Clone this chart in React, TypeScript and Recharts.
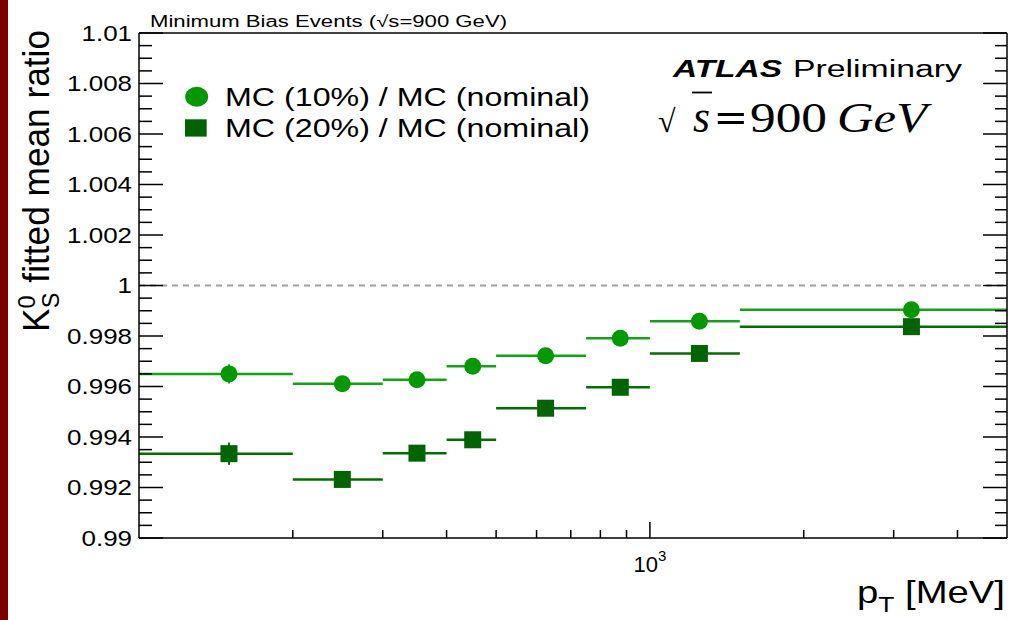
import { ScatterChart, Scatter, XAxis, YAxis, ErrorBar, ReferenceLine } from 'recharts';

// pT bins [MeV] and bin centres
const binLow = [100, 200, 300, 400, 500, 750, 1000, 1500];
const binHigh = [200, 300, 400, 500, 750, 1000, 1500, 5000];
const binCenter = [150, 250, 350, 450, 625, 875, 1250, 3250];

// fitted K0s mean ratio to nominal MC
const ratio10 = [0.9965, 0.99611, 0.99627, 0.9968, 0.99722, 0.99791, 0.99858, 0.99904];
const stat10 = [0.00038, 0.0002, 0.0002, 0.0002, 0.0002, 0.0002, 0.0002, 0.0002];
const ratio20 = [0.99334, 0.99232, 0.99336, 0.99389, 0.99514, 0.99597, 0.99731, 0.99837];
const stat20 = [0.00044, 0.0002, 0.0002, 0.0002, 0.0002, 0.0002, 0.0002, 0.0002];

const yMajorTicks = [0.99, 0.992, 0.994, 0.996, 0.998, 1, 1.002, 1.004, 1.006, 1.008, 1.01];
const yMinorTicks = [
  0.9905, 0.991, 0.9915, 0.9925, 0.993, 0.9935, 0.9945, 0.995, 0.9955, 0.9965, 0.997, 0.9975,
  0.9985, 0.999, 0.9995, 1.0005, 1.001, 1.0015, 1.0025, 1.003, 1.0035, 1.0045, 1.005, 1.0055,
  1.0065, 1.007, 1.0075, 1.0085, 1.009, 1.0095,
];
const xMajorTicks = [1000];
const xMinorTicks = [200, 300, 400, 500, 600, 700, 800, 900, 2000, 3000, 4000];

const legendLabels = ['MC (10%) / MC (nominal)', 'MC (20%) / MC (nominal)'];

const GREEN = '#009a00';
const GREEN_LINE = '#14a314';
const DARK = '#006400';
const DARK_LINE = '#006e00';
const SANS = '"Liberation Sans", Arial, Helvetica, sans-serif';
const SERIF = '"Liberation Serif", "Times New Roman", serif';

const toPoints = (vals: number[], errs: number[]) =>
  binCenter.map((pt, i) => ({
    pt,
    val: vals[i],
    xErr: [pt - binLow[i], binHigh[i] - pt],
    yErr: errs[i],
  }));

const points10 = toPoints(ratio10, stat10);
const points20 = toPoints(ratio20, stat20);

const allY = [...yMajorTicks, ...yMinorTicks].sort((a, b) => a - b);
const allX = [...xMinorTicks, ...xMajorTicks].sort((a, b) => a - b);
const isMajorY = (v: number) => yMajorTicks.includes(v);
const isMajorX = (v: number) => xMajorTicks.includes(v);

// ROOT style: ticks point into the frame
const LeftTick = ({ x, y, payload }: any) => {
  const major = isMajorY(payload.value);
  return (
    <g>
      <line x1={x} x2={x + (major ? 24 : 13)} y1={y} y2={y} stroke="#000" strokeWidth={1.5} />
      {major && (
        <g transform={`translate(${x - 7},${y}) scale(1.18,1)`}>
          <text x={0} y={0} dy="0.36em" textAnchor="end" fontSize={22} fontFamily={SANS} fill="#000">
            {String(payload.value)}
          </text>
        </g>
      )}
    </g>
  );
};

const RightTick = ({ x, y, payload }: any) => (
  <line x1={x} x2={x - (isMajorY(payload.value) ? 24 : 12)} y1={y} y2={y} stroke="#000" strokeWidth={1.5} />
);

const BottomTick = ({ x, y, payload }: any) => {
  const major = isMajorX(payload.value);
  return (
    <g>
      <line x1={x} x2={x} y1={y} y2={y - (major ? 16 : 8)} stroke="#000" strokeWidth={1.5} />
      {major && (
        <text x={x} y={y + 34} textAnchor="middle" fontSize={22} fontFamily={SANS} fill="#000">
          10
          <tspan fontSize={15} dy={-11}>
            3
          </tspan>
        </text>
      )}
    </g>
  );
};

const TopTick = ({ x, y, payload }: any) => (
  <line x1={x} x2={x} y1={y} y2={y + (isMajorX(payload.value) ? 16 : 8)} stroke="#000" strokeWidth={1.5} />
);

const frame = { stroke: '#000', strokeWidth: 1.5 };

export default function App() {
  return (
    <div style={{ position: 'relative', width: 1010, height: 620, background: '#fff', overflow: 'hidden' }}>
      <style>{'body{margin:0}'}</style>
      <div style={{ position: 'absolute', left: 0, top: 0, width: 8, height: 620, background: '#7a0000' }} />
      <ScatterChart width={1010} height={620} margin={{ top: 32, right: 2, bottom: 0, left: 0 }}>
        <XAxis
          xAxisId="pt"
          dataKey="pt"
          type="number"
          scale="log"
          domain={[100, 5000]}
          allowDataOverflow
          ticks={allX}
          interval={0}
          height={82}
          tickSize={0}
          tickMargin={0}
          tickLine={false}
          tick={<BottomTick />}
          axisLine={frame}
        />
        <XAxis
          xAxisId="top"
          orientation="top"
          type="number"
          scale="log"
          domain={[100, 5000]}
          allowDataOverflow
          ticks={allX}
          interval={0}
          height={1}
          tickSize={0}
          tickMargin={0}
          tickLine={false}
          tick={<TopTick />}
          axisLine={frame}
        />
        <YAxis
          yAxisId="ratio"
          dataKey="val"
          type="number"
          domain={[0.99, 1.01]}
          allowDataOverflow
          ticks={allY}
          interval={0}
          width={139}
          tickSize={0}
          tickMargin={0}
          tickLine={false}
          tick={<LeftTick />}
          axisLine={frame}
        />
        <YAxis
          yAxisId="right"
          orientation="right"
          type="number"
          domain={[0.99, 1.01]}
          allowDataOverflow
          ticks={allY}
          interval={0}
          width={1}
          tickSize={0}
          tickMargin={0}
          tickLine={false}
          tick={<RightTick />}
          axisLine={frame}
        />

        <ReferenceLine xAxisId="pt" yAxisId="ratio" y={1} stroke="#a0a0a0" strokeWidth={2} strokeDasharray="6 5" />

        <Scatter
          xAxisId="pt"
          yAxisId="ratio"
          data={points10}
          isAnimationActive={false}
          shape={(p: any) => <circle cx={p.cx} cy={p.cy} r={8.5} fill={GREEN} />}
        >
          <ErrorBar dataKey="xErr" direction="x" width={0} stroke={GREEN_LINE} strokeWidth={2.5} />
          <ErrorBar dataKey="yErr" direction="y" width={0} stroke={GREEN_LINE} strokeWidth={2} />
        </Scatter>
        <Scatter
          xAxisId="pt"
          yAxisId="ratio"
          data={points20}
          isAnimationActive={false}
          shape={(p: any) => <rect x={p.cx - 8.5} y={p.cy - 8.5} width={17} height={17} fill={DARK} />}
        >
          <ErrorBar dataKey="xErr" direction="x" width={0} stroke={DARK_LINE} strokeWidth={2.5} />
          <ErrorBar dataKey="yErr" direction="y" width={0} stroke={DARK_LINE} strokeWidth={2} />
        </Scatter>
      </ScatterChart>

      {/* titles, legend and labels */}
      <svg width={1010} height={620} style={{ position: 'absolute', left: 0, top: 0, pointerEvents: 'none' }}>
        <text x={150} y={26.5} fontSize={16} fontFamily={SANS} textLength={357} lengthAdjust="spacingAndGlyphs">
          Minimum Bias Events (√s=900 GeV)
        </text>

        <ellipse cx={196.7} cy={96.7} rx={11.5} ry={10} fill={GREEN} />
        <rect x={185} y={119.3} width={21.7} height={17.3} fill={DARK} />
        <text x={225} y={106} fontSize={26.5} fontFamily={SANS} textLength={365} lengthAdjust="spacingAndGlyphs">
          {legendLabels[0]}
        </text>
        <text x={225} y={136.7} fontSize={26.5} fontFamily={SANS} textLength={365} lengthAdjust="spacingAndGlyphs">
          {legendLabels[1]}
        </text>

        <text x={673} y={77} fontSize={23} fontFamily={SANS} fontWeight="bold" fontStyle="italic" textLength={109} lengthAdjust="spacingAndGlyphs">
          ATLAS
        </text>
        <text x={793} y={77} fontSize={23} fontFamily={SANS} textLength={169} lengthAdjust="spacingAndGlyphs">
          Preliminary
        </text>

        <text x={658} y={131.7} fontSize={32} fontFamily={SERIF}>√</text>
        <line x1={692} x2={712} y1={92.5} y2={92.5} stroke="#000" strokeWidth={1.8} />
        <text x={693} y={131.7} fontSize={46} fontFamily={SERIF} fontStyle="italic" textLength={17} lengthAdjust="spacingAndGlyphs">s</text>
        <text x={715} y={131.7} fontSize={42} fontFamily={SERIF} fontWeight="bold" textLength={32} lengthAdjust="spacingAndGlyphs">=</text>
        <text x={750} y={131.7} fontSize={42} fontFamily={SERIF} textLength={77} lengthAdjust="spacingAndGlyphs">900</text>
        <text x={837} y={131.7} fontSize={42} fontFamily={SERIF} fontStyle="italic" textLength={90} lengthAdjust="spacingAndGlyphs">GeV</text>

        <text transform="translate(49,30) rotate(-90)" textAnchor="end" fontSize={36} fontFamily={SANS} textLength={302} lengthAdjust="spacingAndGlyphs">
          K
          <tspan fontSize={24} dy={-14}>0</tspan>
          <tspan fontSize={24} dx={-13} dy={24}>S</tspan>
          <tspan dy={-10}> fitted mean ratio</tspan>
        </text>

        <text x={857} y={603} fontSize={32} fontFamily={SANS} textLength={148} lengthAdjust="spacingAndGlyphs">
          p
          <tspan fontSize={22} dy={9}>T</tspan>
          <tspan dy={-9}> [MeV]</tspan>
        </text>
      </svg>
    </div>
  );
}
